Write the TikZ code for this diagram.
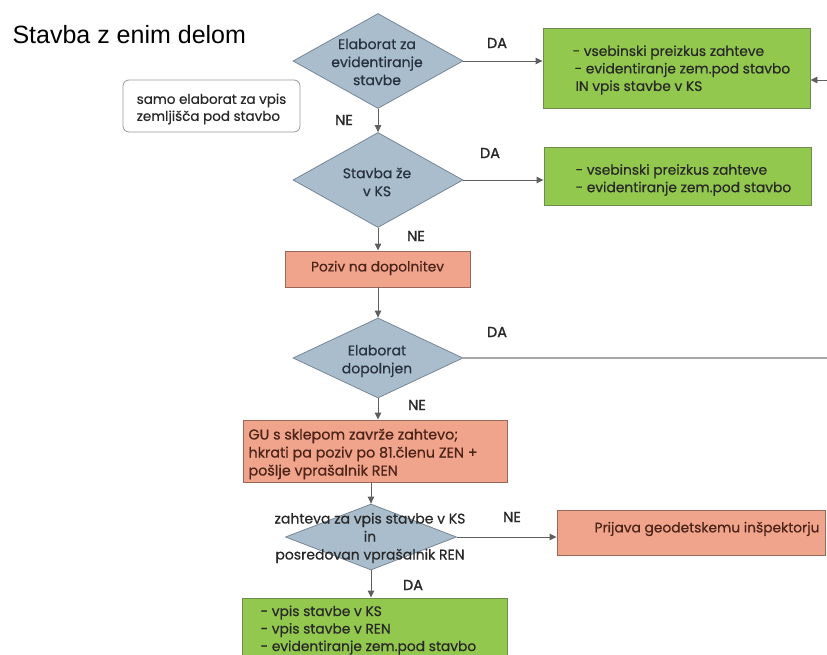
\documentclass[tikz,border=0pt]{standalone}
\usepackage{fontspec}
\setmainfont{Poppins}
\newfontfamily\bodyfont{Poppins}[FakeBold=0.5]
\newfontfamily\lblfont{Poppins}[FakeBold=1.2]
\newfontfamily\titlefont{Liberation Sans}
\usetikzlibrary{shapes.geometric,arrows.meta}
\definecolor{dfill}{RGB}{170,189,204}
\definecolor{dline}{RGB}{120,135,150}
\definecolor{gfill}{RGB}{146,200,78}
\definecolor{gline}{RGB}{110,140,80}
\definecolor{sfill}{RGB}{241,164,140}
\definecolor{sline}{RGB}{150,105,90}
\definecolor{cline}{RGB}{95,95,95}
\definecolor{txt}{RGB}{40,40,40}
\definecolor{stxt}{RGB}{75,35,25}
\definecolor{dtxt}{RGB}{40,50,62}
\tikzset{
  dec/.style={diamond, draw=dline, fill=dfill, line width=0.8pt, inner sep=0pt},
  dtext/.style={align=center, font=\bodyfont\fontsize{14}{18}\selectfont, text=dtxt},
  gbox/.style={rectangle, draw=gline, fill=gfill, line width=0.9pt},
  sbox/.style={rectangle, draw=sline, fill=sfill, line width=0.9pt},
  btext/.style={font=\bodyfont\fontsize{13.8}{17.5}\selectfont, text=txt, align=left},
  lbl/.style={font=\lblfont\fontsize{14.5}{16}\selectfont, text=txt},
  conn/.style={draw=cline, line width=0.9pt, -{Triangle[length=7pt,width=6.5pt]}},
}
\begin{document}
\begin{tikzpicture}[x=1pt,y=-1pt]
\useasboundingbox (0,0) rectangle (827,655);
\clip (0,0) rectangle (827,655);
\fill[white] (0,0) rectangle (827,655);
% title
\node[anchor=west, font=\titlefont\fontsize{25}{28}\selectfont, text=black] (title) at (9,35) {Stavba z enim delom};
% note
\node[draw=gray!80, rounded corners=6pt, line width=0.8pt, minimum width=177pt, minimum height=52pt, fill=white] (note) at (211.5,106) {};
\node[font=\bodyfont\fontsize{13.5}{17}\selectfont, align=left, text=txt] (notet) at (211.5,109) {samo elaborat za vpis\\zemljišča pod stavbo};
% diamonds
\node[dec, minimum width=170pt, minimum height=95pt] (d1) at (378,61) {};
\node[dtext] (d1t) at (377,62) {Elaborat za\\evidentiranje\\stavbe};
\node[dec, minimum width=170pt, minimum height=95pt] (d2) at (378,180) {};
\node[dtext] (d2t) at (377,182) {Stavba že\\v KS};
\node[dec, minimum width=170pt, minimum height=80pt] (d3) at (378,358) {};
\node[dtext] (d3t) at (377,361) {Elaborat\\dopolnjen};
\node[dec, minimum width=171pt, minimum height=66pt] (d4) at (371,537) {};
\node[dtext, text=txt] (d4t) at (370,538) {zahteva za vpis stavbe v KS\\in\\posredovan vprašalnik REN};
% boxes
\node[gbox, minimum width=267pt, minimum height=80pt] (b1) at (676.5,68) {};
\node[btext, anchor=west] (b1t) at (569,70) {- vsebinski preizkus zahteve\\\hspace*{2pt}- evidentiranje zem.pod stavbo\\\hspace*{3pt}IN vpis stavbe v KS};
\node[gbox, minimum width=267pt, minimum height=58pt] (b2) at (677.5,176) {};
\node[btext, anchor=west] (b2t) at (572,180) {- vsebinski preizkus zahteve\\- evidentiranje zem.pod stavbo};
\node[sbox, minimum width=185pt, minimum height=36pt] (poziv) at (377.5,269) {};
\node[btext, text=stxt] (pozivt) at (377.5,268) {Poziv na dopolnitev};
\node[sbox, minimum width=264pt, minimum height=62pt] (gu) at (375,451) {};
\node[btext, anchor=west, text=stxt, font=\bodyfont\fontsize{14.3}{18}\selectfont] (gut) at (245,454) {GU s sklepom zavrže zahtevo;\\hkrati pa poziv po 81.členu ZEN +\\pošlje vprašalnik REN};
\node[sbox, minimum width=268pt, minimum height=45pt] (prij) at (691,532.5) {};
\node[btext, anchor=east, text=stxt] (prijt) at (823,529) {Prijava geodetskemu inšpektorju};
\node[gbox, minimum width=265pt, minimum height=72pt] (b3) at (374.5,634) {};
\node[btext, anchor=north west] (b3t) at (257,602) {- vpis stavbe v KS\\- vpis stavbe v REN\\- evidentiranje zem.pod stavbo};
% edge coordinates
\coordinate (e1) at (827,80);
\coordinate (e3) at (827,358);
% connectors
\draw[conn] (d1.east) -- (d1.east -| b1.west);
\draw[conn] (d1.south) -- (d2.north);
\draw[conn] (d2.east) -- (d2.east -| b2.west);
\draw[conn] (d2.south) -- (d2.south |- poziv.north);
\draw[conn] (poziv.south -| d3.north) -- (d3.north);
\draw[draw=gray!70, line width=1.3pt] (d3.east) -- (e3);
\draw[conn] (e1) -- (e1 -| b1.east);
\draw[conn] (d3.south) -- (d3.south |- gu.north);
\draw[conn] (gu.south -| d4.north) -- (d4.north);
\draw[conn] (d4.east) -- (d4.east -| prij.west);
\draw[conn] (d4.south) -- (d4.south |- b3.north);
% labels
\node[lbl] (l1) at (497,43) {DA};
\node[lbl] (l2) at (344,120) {NE};
\node[lbl] (l3) at (490,153) {DA};
\node[lbl] (l4) at (416,236) {NE};
\node[lbl] (l5) at (497,332) {DA};
\node[lbl] (l6) at (417,405) {NE};
\node[lbl] (l7) at (512,517) {NE};
\node[lbl] (l8) at (413,585) {DA};
\end{tikzpicture}
\end{document}
